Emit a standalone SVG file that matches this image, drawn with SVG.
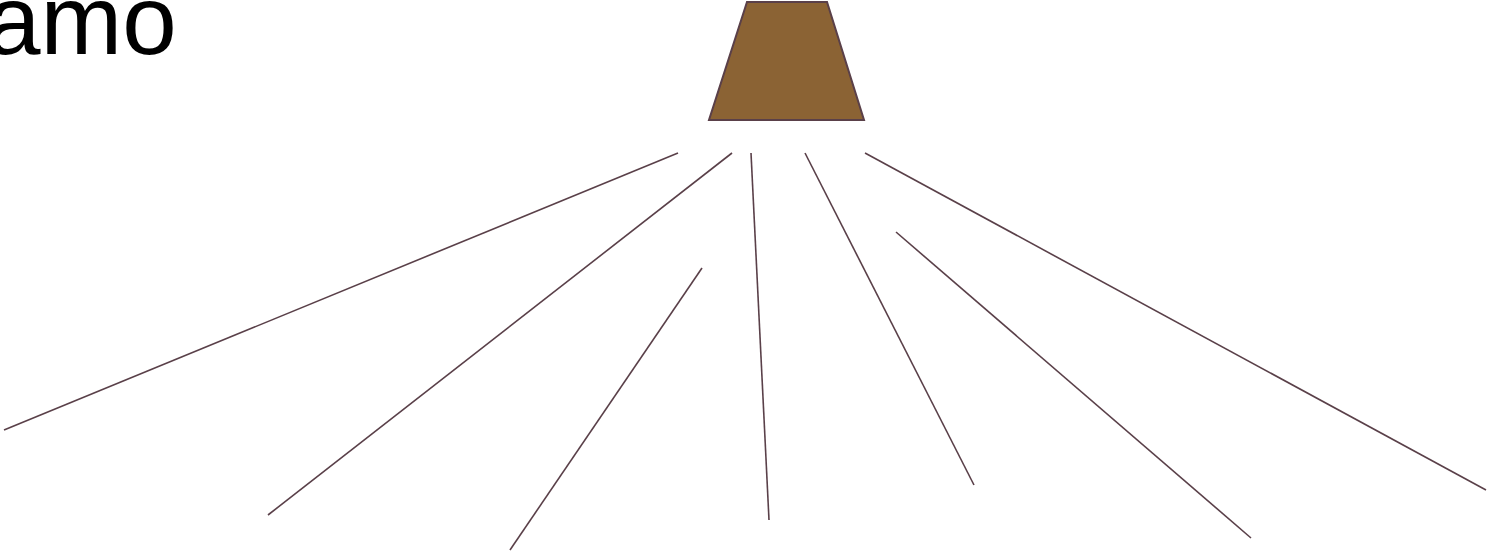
<svg xmlns="http://www.w3.org/2000/svg" width="1491" height="555" viewBox="0 0 1491 555">
<style>
.ln{stroke:#5a4049;stroke-width:1.6;fill:none}
.lbl{font-family:"Liberation Sans",Arial,sans-serif;font-size:98px;fill:#000}
</style>
<rect width="1491" height="555" fill="#fff"/>
<g id="title"><text class="lbl" x="-14" y="54">amo</text></g>
<g id="node-top"><polygon points="747,2 827,2 864,120 709,120" fill="#8b6334" stroke="#5a4049" stroke-width="2"/></g>
<g id="connectors">
<line class="ln" x1="678" y1="153" x2="4" y2="430"/>
<line class="ln" x1="732" y1="153" x2="268" y2="515"/>
<line class="ln" x1="702" y1="268" x2="510" y2="550"/>
<line class="ln" x1="751" y1="153" x2="769" y2="520"/>
<line class="ln" x1="805" y1="153" x2="974" y2="485"/>
<line class="ln" x1="896" y1="232" x2="1251" y2="538"/>
<line class="ln" x1="865" y1="153" x2="1486" y2="490"/>
</g>
</svg>
